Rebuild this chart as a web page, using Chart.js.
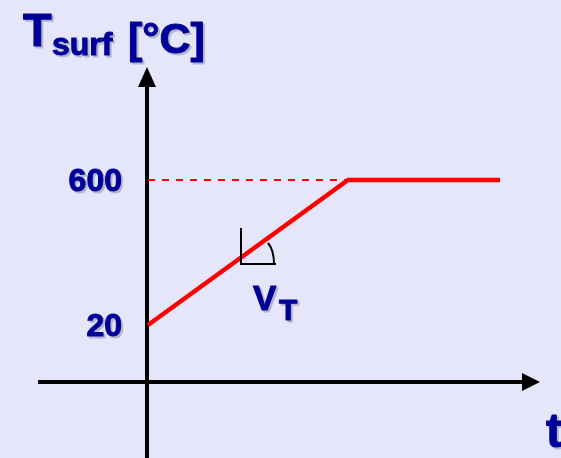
<!DOCTYPE html>
<html>
<head>
<meta charset="utf-8">
<script src="https://cdn.jsdelivr.net/npm/chart.js@4"></script>
<style>
  html, body { margin: 0; padding: 0; background: #E6E6FA; }
  canvas { display: block; }
</style>
</head>
<body>
<canvas id="canvas" width="561" height="458"></canvas>
<script>
// schematic heating curve: ramp from 20 to 600 °C, then hold
const times = [0, 1, 1.76];
const temps = [20, 600, 600];
const guideTimes = [0, 1];
const guideTemps = [600, 600];
const tickValues = [20, 600];
const tickLabels = ['20', '600'];

const BLUE = '#000099';
const SHADOW = '#B4B4CC';

function shadowText(ctx, txt, x, y, font, align) {
  ctx.font = font;
  ctx.textAlign = align || 'left';
  ctx.textBaseline = 'alphabetic';
  ctx.lineJoin = 'round';
  ctx.lineWidth = 1;
  ctx.fillStyle = SHADOW;
  ctx.strokeStyle = SHADOW;
  ctx.fillText(txt, x + 2, y + 2);
  ctx.strokeText(txt, x + 2, y + 2);
  ctx.fillStyle = BLUE;
  ctx.strokeStyle = BLUE;
  ctx.fillText(txt, x, y);
  ctx.strokeText(txt, x, y);
}

const sketch = {
  id: 'sketch',
  beforeDraw(chart) {
    const ctx = chart.ctx;
    ctx.save();
    ctx.fillStyle = '#E6E6FA';
    ctx.fillRect(0, 0, chart.width, chart.height);
    ctx.restore();
  },
  beforeDatasetsDraw(chart) {
    const ctx = chart.ctx;
    const x0 = chart.scales.x.getPixelForValue(0) - 1;
    const yAxis = 382;
    ctx.save();
    ctx.strokeStyle = '#000';
    ctx.fillStyle = '#000';
    ctx.lineWidth = 4;
    // vertical axis
    ctx.beginPath();
    ctx.moveTo(x0, chart.height);
    ctx.lineTo(x0, 84);
    ctx.stroke();
    ctx.beginPath();
    ctx.moveTo(x0, 67);
    ctx.lineTo(x0 - 9, 87);
    ctx.lineTo(x0 + 9, 87);
    ctx.closePath();
    ctx.fill();
    // horizontal axis
    ctx.beginPath();
    ctx.moveTo(38, yAxis);
    ctx.lineTo(525, yAxis);
    ctx.stroke();
    ctx.beginPath();
    ctx.moveTo(540, yAxis);
    ctx.lineTo(522, yAxis - 9);
    ctx.lineTo(522, yAxis + 9);
    ctx.closePath();
    ctx.fill();
    ctx.restore();
  },
  afterDraw(chart) {
    const ctx = chart.ctx;
    const ys = chart.scales.y;
    ctx.save();
    // slope marker
    ctx.strokeStyle = '#000';
    ctx.lineWidth = 2;
    ctx.beginPath();
    ctx.moveTo(241, 228);
    ctx.lineTo(241, 264);
    ctx.lineTo(276, 264);
    ctx.stroke();
    ctx.beginPath();
    ctx.moveTo(268, 243);
    ctx.quadraticCurveTo(274, 250, 274, 264);
    ctx.stroke();

    // tick labels
    tickValues.forEach((v, i) => {
      const y = ys.getPixelForValue(v) + 11;
      shadowText(ctx, tickLabels[i], 122, y, 'bold 32px Arial, "Liberation Sans", sans-serif', 'right');
    });

    // axis titles
    shadowText(ctx, 'T', 23, 46, 'bold 47px Arial, "Liberation Sans", sans-serif');
    shadowText(ctx, 'surf', 52, 55, 'bold 32px Arial, "Liberation Sans", sans-serif');
    shadowText(ctx, '[°C]', 128, 53, 'bold 43px Arial, "Liberation Sans", sans-serif');
    shadowText(ctx, 't', 546, 447, 'bold 48px Arial, "Liberation Sans", sans-serif');

    // slope label
    shadowText(ctx, 'V', 253, 310, 'bold 35px Arial, "Liberation Sans", sans-serif');
    shadowText(ctx, 'T', 279, 320, 'bold 30px Arial, "Liberation Sans", sans-serif');
    ctx.restore();
  }
};

new Chart(document.getElementById('canvas').getContext('2d'), {
  type: 'line',
  data: {
    datasets: [{
      data: times.map((t, i) => ({ x: t, y: temps[i] })),
      borderColor: '#FF0000',
      borderWidth: 4.5,
      pointRadius: 0,
      tension: 0,
      borderCapStyle: 'butt'
    }, {
      data: guideTimes.map((t, i) => ({ x: t, y: guideTemps[i] })),
      borderColor: '#FF0000',
      borderWidth: 2,
      borderDash: [7, 7],
      pointRadius: 0,
      tension: 0
    }]
  },
  options: {
    responsive: false,
    animation: false,
    layout: { padding: 0 },
    plugins: { legend: { display: false }, tooltip: { enabled: false } },
    scales: {
      x: { type: 'linear', min: -0.74, max: 2.065, display: false },
      y: { type: 'linear', min: -512, max: 1320, display: false }
    }
  },
  plugins: [sketch]
});
</script>
</body>
</html>
